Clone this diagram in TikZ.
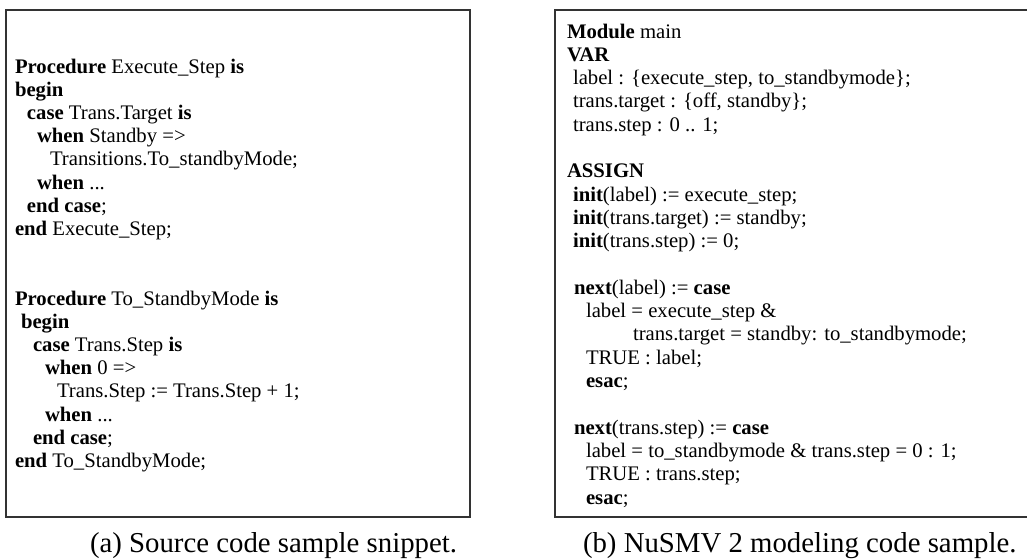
\documentclass[tikz,border=0pt]{standalone}
\usepackage{fontspec}
\setmainfont{Liberation Serif}
\tikzset{
  codeline/.style={anchor=base west, inner sep=0pt, outer sep=0pt, font=\fontsize{20.7}{23}\selectfont},
  capline/.style={anchor=base west, inner sep=0pt, outer sep=0pt, font=\fontsize{28.8}{32}\selectfont},
  frame/.style={draw=black!80, line width=1.3pt}
}
\begin{document}
\begin{tikzpicture}[x=1pt,y=-1pt]
\useasboundingbox (0,0) rectangle (1027,558);
\begin{scope}
\clip (0,0) rectangle (1027,558);
\draw[frame] (6,10) rectangle (470,517);
\draw[frame] (555,10) rectangle (1045,517);
\end{scope}
% left box, first procedure
\node[codeline] (l1) at (15,73) {\textbf{Procedure} Execute\_Step \textbf{is}};
\node[codeline] (l2) at (15,96.2) {\textbf{begin}};
\node[codeline] (l3) at (27,119.4) {\textbf{case} Trans.Target \textbf{is}};
\node[codeline] (l4) at (37,142.6) {\textbf{when} Standby =>};
\node[codeline] (l5) at (50,165.8) {Transitions.To\_standbyMode;};
\node[codeline] (l6) at (37,189.0) {\textbf{when} ...};
\node[codeline] (l7) at (27,212.2) {\textbf{end case};};
\node[codeline] (l8) at (15,235.4) {\textbf{end} Execute\_Step;};
% left box, second procedure
\node[codeline] (l9) at (15,305.0) {\textbf{Procedure} To\_StandbyMode \textbf{is}};
\node[codeline] (l10) at (21,328.2) {\textbf{begin}};
\node[codeline] (l11) at (33,351.4) {\textbf{case} Trans.Step \textbf{is}};
\node[codeline] (l12) at (45,374.6) {\textbf{when} 0 =>};
\node[codeline] (l13) at (57,397.8) {Trans.Step := Trans.Step + 1;};
\node[codeline] (l14) at (45,421.0) {\textbf{when} ...};
\node[codeline] (l15) at (33,444.2) {\textbf{end case};};
\node[codeline] (l16) at (15,467.4) {\textbf{end} To\_StandbyMode;};
% right box
\node[codeline] (r1) at (567,38.0) {\textbf{Module} main};
\node[codeline] (r2) at (567,61.3) {\textbf{VAR}};
\node[codeline] (r3) at (573,84.6) {label : \{execute\_step, to\_standbymode\};};
\node[codeline] (r4) at (573,107.9) {trans.target : \{off, standby\};};
\node[codeline] (r5) at (573,131.2) {trans.step : 0 .. 1;};
\node[codeline] (r6) at (567,177.8) {\textbf{ASSIGN}};
\node[codeline] (r7) at (573,201.1) {\textbf{init}(label) := execute\_step;};
\node[codeline] (r8) at (573,224.4) {\textbf{init}(trans.target) := standby;};
\node[codeline] (r9) at (573,247.7) {\textbf{init}(trans.step) := 0;};
\node[codeline] (r10) at (574,294.3) {\textbf{next}(label) := \textbf{case}};
\node[codeline] (r11) at (586,317.6) {label = execute\_step \&};
\node[codeline] (r12) at (633,340.9) {trans.target = standby: to\_standbymode;};
\node[codeline] (r13) at (586,364.2) {TRUE : label;};
\node[codeline] (r14) at (586,387.5) {\textbf{esac};};
\node[codeline] (r15) at (574,434.1) {\textbf{next}(trans.step) := \textbf{case}};
\node[codeline] (r16) at (586,457.4) {label = to\_standbymode \& trans.step = 0 : 1;};
\node[codeline] (r17) at (586,480.7) {TRUE : trans.step;};
\node[codeline] (r18) at (586,504.0) {\textbf{esac};};
% captions
\node[capline] (capa) at (90,552) {(a) Source code sample snippet.};
\node[capline] (capb) at (583,552) {(b) NuSMV 2 modeling code sample.};
\end{tikzpicture}
\end{document}
